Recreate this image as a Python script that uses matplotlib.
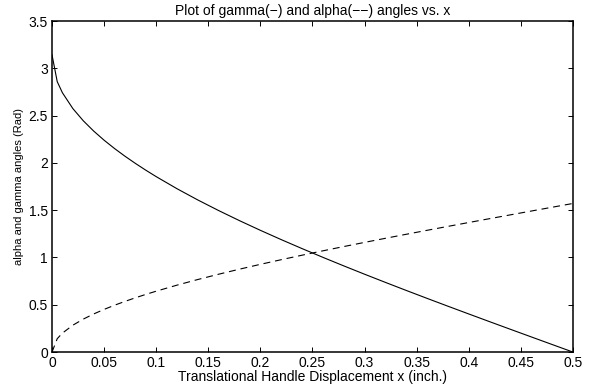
import matplotlib
matplotlib.use("Agg")
import matplotlib.pyplot as plt

# Values
x_vals = [0.0, 0.005, 0.01, 0.02, 0.03, 0.04, 0.05, 0.06, 0.07, 0.08, 0.09, 0.10,
          0.12, 0.14, 0.16, 0.18, 0.20, 0.22, 0.24, 0.26, 0.28, 0.30, 0.32, 0.34,
          0.36, 0.38, 0.40, 0.42, 0.44, 0.46, 0.48, 0.50]
gamma_vals = [3.1416, 2.8586, 2.7410, 2.5740, 2.4452, 2.3362, 2.2396, 2.1518, 2.0706,
              1.9946, 1.9228, 1.8546, 1.7266, 1.6076, 1.4956, 1.3890, 1.2870, 1.1888,
              1.0938, 1.0014, 0.9112, 0.8230, 0.7366, 0.6514, 0.5676, 0.4848, 0.4028,
              0.3214, 0.2406, 0.1602, 0.0800, 0.0000]
alpha_vals = [0.0, 0.1415, 0.2003, 0.2838, 0.3482, 0.4027, 0.4510, 0.4949, 0.5355,
              0.5735, 0.6094, 0.6435, 0.7075, 0.7670, 0.8230, 0.8763, 0.9273, 0.9764,
              1.0239, 1.0701, 1.1152, 1.1593, 1.2025, 1.2451, 1.2870, 1.3284, 1.3694,
              1.4101, 1.4505, 1.4907, 1.5308, 1.5708]

x_ticks = [0, 0.05, 0.1, 0.15, 0.2, 0.25, 0.3, 0.35, 0.4, 0.45, 0.5]
x_tick_labels = ["0", "0.05", "0.1", "0.15", "0.2", "0.25", "0.3", "0.35", "0.4", "0.45", "0.5"]
y_ticks = [0, 0.5, 1, 1.5, 2, 2.5, 3, 3.5]
y_tick_labels = ["0", "0.5", "1", "1.5", "2", "2.5", "3", "3.5"]

plt.rcParams['font.family'] = ['Liberation Sans', 'DejaVu Sans']
plt.rcParams['lines.scale_dashes'] = False

fig = plt.figure(figsize=(5.98, 3.89), dpi=100)
ax = fig.add_axes([0.087, 0.095, 0.871, 0.851])

ax.plot(x_vals, gamma_vals, color='black', lw=0.8, solid_joinstyle='round')
ax.plot(x_vals, alpha_vals, color='black', lw=0.8, linestyle=(0, (5, 3.5)))

ax.set_xlim(0, 0.5)
ax.set_ylim(0, 3.5)
ax.set_xticks(x_ticks)
ax.set_xticklabels(x_tick_labels)
ax.set_yticks(y_ticks)
ax.set_yticklabels(y_tick_labels)

ax.tick_params(direction='in', length=3.5, width=0.7, top=True, right=True,
               labelsize=10, colors='black')
ax.tick_params(axis='x', pad=3)
ax.tick_params(axis='y', pad=3)
for s in ax.spines.values():
    s.set_linewidth(1.1)

ax.set_title("Plot of gamma(\u2212) and alpha(\u2212\u2212) angles vs. x", fontsize=10, pad=4)
ax.set_xlabel("Translational Handle Displacement x (inch.)", fontsize=10, labelpad=0)
ax.set_ylabel("alpha and gamma angles (Rad)", fontsize=8, labelpad=3.5)

fig.savefig("out.png", dpi=100)
